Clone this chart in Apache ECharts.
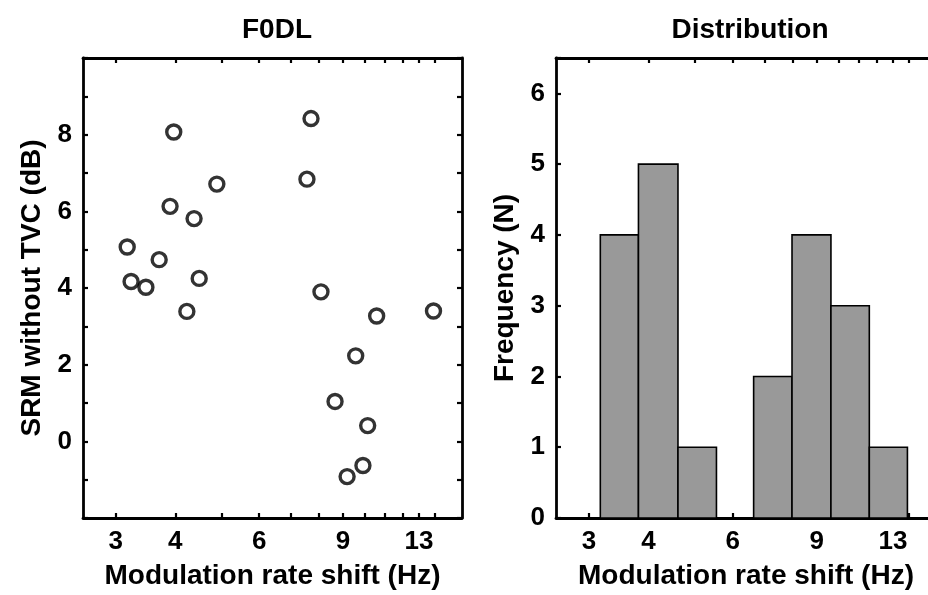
<!DOCTYPE html>
<html>
<head>
<meta charset="utf-8">
<script src="https://cdn.jsdelivr.net/npm/echarts@6/dist/echarts.min.js"></script>
<style>
html,body{margin:0;padding:0;background:#fff;}
#chart{width:928px;height:595px;}
</style>
</head>
<body>
<div id="chart"></div>
<script>
// Scatter data: modulation rate shift (Hz) and SRM without TVC (dB)
const rateShift = [3.97, 7.71, 7.56, 4.89, 3.90, 4.38, 3.17, 3.70, 3.23, 3.47, 4.49, 4.23, 8.09, 10.59, 13.94, 9.57, 8.66, 10.14, 9.91, 9.18];
const srm       = [8.07, 8.42, 6.84, 6.71, 6.13, 5.81, 5.07, 4.74, 4.17, 4.02, 4.25, 3.39, 3.90, 3.27, 3.40, 2.23, 1.04, 0.41, -0.63, -0.92];
// Histogram: bin edges (Hz) and counts
const binEdges  = [3.17, 3.81, 4.61, 5.55, 6.64, 7.99, 9.64, 11.60, 13.94];
const binCounts = [4, 5, 1, 0, 2, 4, 3, 1];
// Axis ticks
const xTickValues  = [3, 4, 5, 6, 7, 8, 9, 10, 11, 12, 13, 14];
const xTickLabels  = [3, 4, 6, 9, 13];
const yLeftLabels  = [0, 2, 4, 6, 8];
const yRightLabels = [0, 1, 2, 3, 4, 5, 6];

const FONT = '"Liberation Sans", Arial, sans-serif';
const chart = echarts.init(document.getElementById('chart'));

function xAx(gridIndex, pos, withLabels) {
  return {
    type: 'log', gridIndex: gridIndex, position: pos, min: 2.56, max: 16, logBase: 10,
    name: withLabels ? 'Modulation rate shift (Hz)' : '',
    nameLocation: 'middle', nameGap: 44,
    nameTextStyle: {fontFamily: FONT, fontSize: 28, fontWeight: 'bold', color: '#000'},
    axisLine: {show: true, onZero: false, lineStyle: {color: '#000', width: 2.8}},
    axisTick: {show: true, inside: true, length: 5, customValues: xTickValues, lineStyle: {color: '#000', width: 2.2}},
    axisLabel: {show: withLabels, customValues: xTickLabels, margin: 11, fontFamily: FONT, fontSize: 26, fontWeight: 'bold', color: '#000'},
    splitLine: {show: false}, minorTick: {show: false}
  };
}
function yAx(gridIndex, pos, withLabels, min, max, labels, name) {
  return {
    type: 'value', gridIndex: gridIndex, position: pos, min: min, max: max, interval: 1,
    name: withLabels ? name : '',
    nameLocation: 'middle', nameGap: 37, nameRotate: 90,
    nameTextStyle: {fontFamily: FONT, fontSize: 28, fontWeight: 'bold', color: '#000'},
    axisLine: {show: true, onZero: false, lineStyle: {color: '#000', width: 2.8}},
    axisTick: {show: true, inside: true, length: 5, lineStyle: {color: '#000', width: 2.2}},
    axisLabel: {show: withLabels, margin: 11, fontFamily: FONT, fontSize: 26, fontWeight: 'bold', color: '#000',
      formatter: function (v) { return labels.indexOf(v) >= 0 ? String(v) : ''; }},
    splitLine: {show: false}
  };
}

const histData = binCounts.map(function (c, i) { return [binEdges[i], binEdges[i + 1], c]; });

chart.setOption({
  animation: false,
  backgroundColor: '#fff',
  title: [
    {text: 'F0DL', left: 272, top: 11, textAlign: 'center',
     textStyle: {fontFamily: FONT, fontSize: 28, fontWeight: 'bold', color: '#000'}},
    {text: 'Distribution', left: 745, top: 11, textAlign: 'center',
     textStyle: {fontFamily: FONT, fontSize: 28, fontWeight: 'bold', color: '#000'}}
  ],
  grid: [
    {left: 83, top: 58, width: 379, height: 460, outerBoundsMode: 'none', containLabel: false},
    {left: 556, top: 58, width: 380, height: 460, outerBoundsMode: 'none', containLabel: false}
  ],
  xAxis: [xAx(0, 'bottom', true), xAx(0, 'top', false), xAx(1, 'bottom', true), xAx(1, 'top', false)],
  yAxis: [
    yAx(0, 'left', true, -2, 10, yLeftLabels, 'SRM without TVC (dB)'),
    yAx(0, 'right', false, -2, 10, yLeftLabels, ''),
    yAx(1, 'left', true, 0, 6.5, yRightLabels, 'Frequency (N)'),
    yAx(1, 'right', false, 0, 6.5, yRightLabels, '')
  ],
  series: [
    {
      type: 'scatter', xAxisIndex: 0, yAxisIndex: 0,
      data: rateShift.map(function (x, i) { return [x, srm[i]]; }),
      symbol: 'circle', symbolSize: 14,
      itemStyle: {color: 'rgba(255,255,255,0)', borderColor: '#000', borderWidth: 3.4}
    },
    {
      type: 'custom', xAxisIndex: 2, yAxisIndex: 2,
      data: histData,
      encode: {x: [0, 1], y: 2},
      renderItem: function (params, api) {
        const c = api.value(2);
        if (!c) return null;
        const p0 = api.coord([api.value(0), 0]);
        const p1 = api.coord([api.value(1), c]);
        return {
          type: 'rect',
          shape: {x: p0[0], y: p1[1], width: p1[0] - p0[0], height: p0[1] - p1[1]},
          style: {fill: '#999999', stroke: '#000', lineWidth: 1.6}
        };
      },
      z: 1
    }
  ]
});
</script>
</body>
</html>
